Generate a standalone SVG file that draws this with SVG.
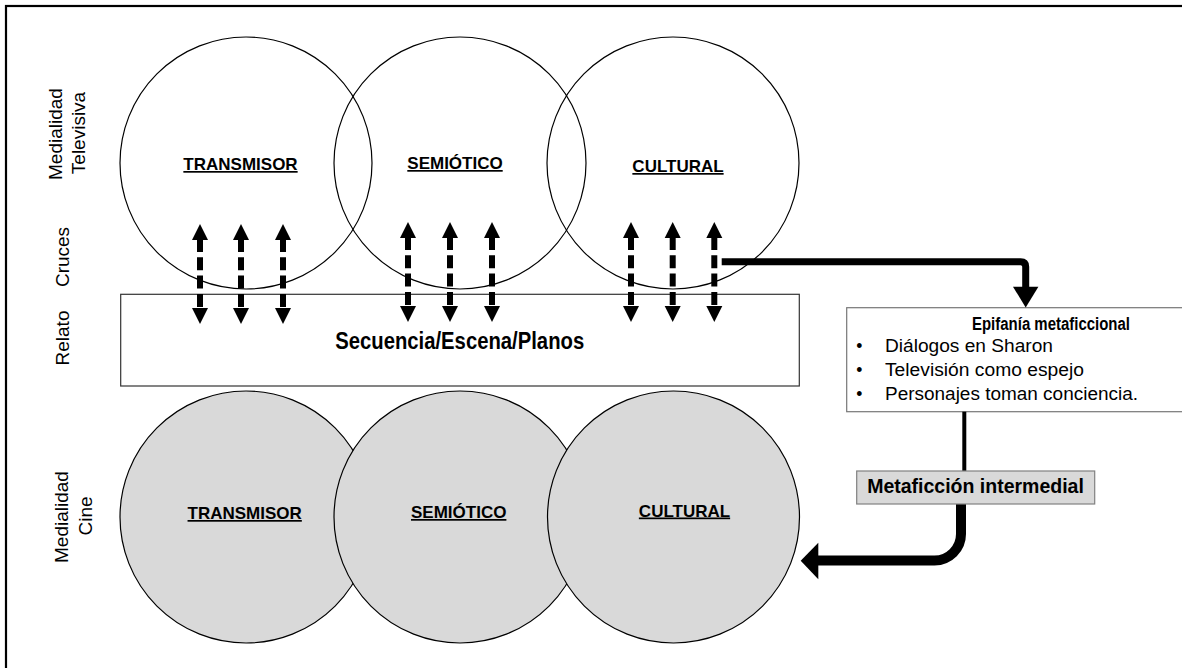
<svg xmlns="http://www.w3.org/2000/svg" xmlns:xlink="http://www.w3.org/1999/xlink" width="1182" height="668" viewBox="0 0 1182 668">
<style>
.side{font-family:"Liberation Sans",Arial,sans-serif;font-size:19px;fill:#000;text-anchor:middle}
.clab{font-family:"Liberation Sans",Arial,sans-serif;font-size:17px;font-weight:bold;fill:#000;text-anchor:middle;text-decoration:underline}
.tc{fill:none;stroke:#000;stroke-width:1.2}
.bc{fill:#d9d9d9;stroke:#000;stroke-width:1.2}
.reg{font-family:"Liberation Sans",Arial,sans-serif;font-size:17.5px;fill:#000}
.bold{font-family:"Liberation Sans",Arial,sans-serif;font-weight:bold;fill:#000}
.conn{fill:none;stroke:#000}
</style>
<defs>
<g id="da">
<line x1="0" y1="15" x2="0" y2="85" stroke="#000" stroke-width="6" stroke-dasharray="13 5.3"/>
<polygon points="0,0 8,16 -8,16" fill="#000"/>
<polygon points="0,100 8,84 -8,84" fill="#000"/>
</g>
</defs>
<rect x="0" y="0" width="1182" height="668" fill="#fff"/>
<rect id="frame" x="6" y="6" width="1200" height="700" fill="none" stroke="#000" stroke-width="2.2"/>

<g id="labels">
<text class="side" transform="rotate(-90 61.7 134)" x="61.7" y="134">Medialidad</text>
<text class="side" transform="rotate(-90 85 133)" x="85" y="133">Televisiva</text>
<text class="side" transform="rotate(-90 69 257)" x="69" y="257">Cruces</text>
<text class="side" transform="rotate(-90 69 338)" x="69" y="338">Relato</text>
<text class="side" transform="rotate(-90 68 517)" x="68" y="517">Medialidad</text>
<text class="side" transform="rotate(-90 91.5 516)" x="91.5" y="516">Cine</text>
</g>

<g id="tv-transmisor"><circle class="tc" cx="246" cy="163" r="126"/><text class="clab" x="240.5" y="170">TRANSMISOR</text></g>
<g id="tv-semiotico"><circle class="tc" cx="460" cy="163" r="126"/><text class="clab" x="455" y="169">SEMIÓTICO</text></g>
<g id="tv-cultural"><circle class="tc" cx="673" cy="163" r="126"/><text class="clab" x="678" y="172">CULTURAL</text></g>

<g id="relato">
<rect x="120.7" y="294.3" width="678.6" height="91.7" fill="#fff" stroke="#333" stroke-width="1.2"/>
<text class="bold" x="459.7" y="349.3" font-size="23" text-anchor="middle" textLength="249" lengthAdjust="spacingAndGlyphs" style="font-family:'Liberation Sans Narrow','Liberation Sans',Arial,sans-serif">Secuencia/Escena/Planos</text>
</g>

<g id="cine-transmisor"><circle class="bc" cx="246" cy="517" r="126"/><text class="clab" x="244.7" y="519">TRANSMISOR</text></g>
<g id="cine-semiotico"><circle class="bc" cx="460" cy="517" r="126"/><text class="clab" x="458.7" y="518">SEMIÓTICO</text></g>
<g id="cine-cultural"><circle class="bc" cx="673.5" cy="517" r="126"/><text class="clab" x="684.5" y="516.5">CULTURAL</text></g>

<g id="epifania">
<rect x="846.7" y="307.7" width="345" height="104" fill="#fff" stroke="#777" stroke-width="1.2"/>
<text class="bold" x="1051" y="330" font-size="18" text-anchor="middle" textLength="158" lengthAdjust="spacingAndGlyphs">Epifanía metaficcional</text>
<text class="reg" x="859.3" y="351.7" text-anchor="middle">•</text>
<text class="reg" x="885" y="351.7" textLength="168" lengthAdjust="spacingAndGlyphs">Diálogos en Sharon</text>
<text class="reg" x="859.3" y="375.7" text-anchor="middle">•</text>
<text class="reg" x="885" y="375.7" textLength="199" lengthAdjust="spacingAndGlyphs">Televisión como espejo</text>
<text class="reg" x="859.3" y="399.5" text-anchor="middle">•</text>
<text class="reg" x="885" y="399.5" textLength="253" lengthAdjust="spacingAndGlyphs">Personajes toman conciencia.</text>
</g>

<g id="connectors">
<use xlink:href="#da" x="200" y="224"/>
<use xlink:href="#da" x="241" y="224"/>
<use xlink:href="#da" x="283" y="224"/>
<use xlink:href="#da" x="408" y="222"/>
<use xlink:href="#da" x="450" y="222"/>
<use xlink:href="#da" x="492" y="222"/>
<use xlink:href="#da" x="631" y="222"/>
<use xlink:href="#da" x="672.7" y="222"/>
<use xlink:href="#da" x="714.3" y="222"/>
<path class="conn" stroke-width="7" d="M721.7 261.7 H1020.7 Q1025.7 261.7 1025.7 266.7 V288"/>
<polygon points="1013,286.7 1038.4,286.7 1025.7,307.5" fill="#000"/>
<path class="conn" stroke-width="4" d="M964.3 411.7 V471"/>
<path class="conn" stroke-width="10" d="M961 504 V534 A26.5 26.5 0 0 1 934.5 560.5 H816"/>
<polygon points="818.3,542.7 818.3,579.3 800.7,560.7" fill="#000"/>
</g>

<g id="metaficcion">
<rect x="856.7" y="471" width="238" height="33" fill="#d9d9d9" stroke="#808080" stroke-width="1.2"/>
<text class="bold" x="975.5" y="493.3" font-size="19.5" text-anchor="middle">Metaficción intermedial</text>
</g>
</svg>
